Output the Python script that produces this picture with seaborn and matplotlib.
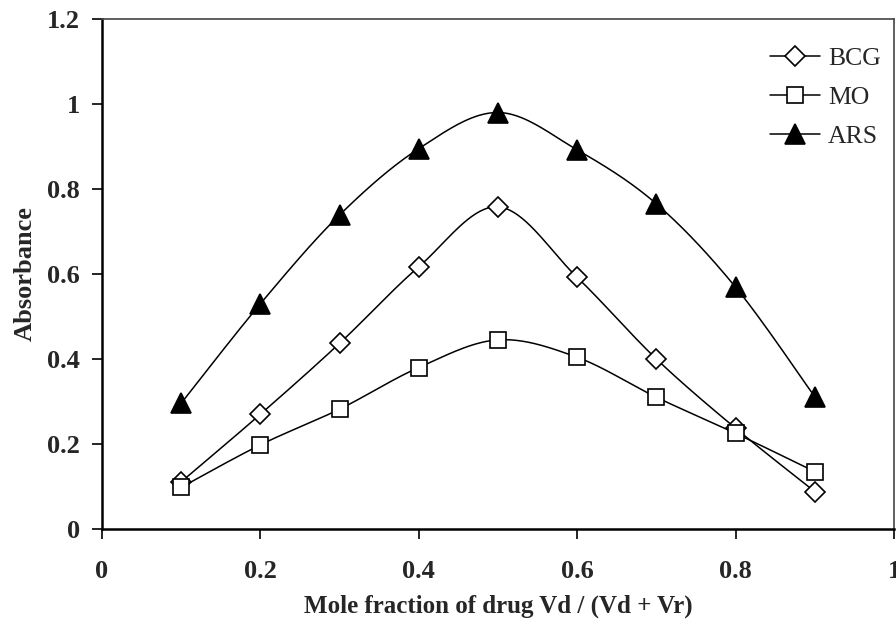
import numpy as np
import pandas as pd
import matplotlib
matplotlib.use("Agg")
import matplotlib.pyplot as plt
import seaborn as sns
from matplotlib.lines import Line2D

# ---- data ----
mole_fraction = [0.1, 0.2, 0.3, 0.4, 0.5, 0.6, 0.7, 0.8, 0.9]
bcg = [0.111, 0.270, 0.437, 0.617, 0.758, 0.592, 0.400, 0.237, 0.088]
mo = [0.098, 0.198, 0.282, 0.380, 0.445, 0.404, 0.310, 0.225, 0.135]
ars = [0.296, 0.530, 0.739, 0.895, 0.980, 0.892, 0.765, 0.569, 0.311]
series_names = ["BCG", "MO", "ARS"]
x_ticks = [0, 0.2, 0.4, 0.6, 0.8, 1.0]
x_tick_labels = ["0", "0.2", "0.4", "0.6", "0.8", "1"]
y_ticks = [0, 0.2, 0.4, 0.6, 0.8, 1.0, 1.2]
y_tick_labels = ["0", "0.2", "0.4", "0.6", "0.8", "1", "1.2"]
x_label = "Mole fraction of drug Vd / (Vd + Vr)"
y_label = "Absorbance"

sns.set_theme(style="white")
plt.rcParams["font.family"] = ["Liberation Serif", "DejaVu Serif"]


def smooth_curve(x, y, n=40):
    """Excel-like smoothed line: cubic Bezier through points (Catmull-Rom tangents)."""
    P = np.column_stack([x, y]).astype(float)
    Pext = np.vstack([P[0], P, P[-1]])
    t = np.linspace(0, 1, n)[:, None]
    segs = []
    for i in range(len(P) - 1):
        p0 = P[i]
        p3 = P[i + 1]
        c1 = p0 + (Pext[i + 2] - Pext[i]) / 6.0
        c2 = p3 - (Pext[i + 3] - Pext[i + 1]) / 6.0
        b = ((1 - t) ** 3) * p0 + 3 * ((1 - t) ** 2) * t * c1 + 3 * (1 - t) * t ** 2 * c2 + t ** 3 * p3
        segs.append(b if i == 0 else b[1:])
    B = np.vstack(segs)
    return B[:, 0], B[:, 1]


fig = plt.figure(figsize=(8.96, 6.22), dpi=100)
ax = fig.add_axes([102 / 896, 93 / 622, 792 / 896, 510 / 622])
fig.patch.set_facecolor("white")
ax.set_facecolor("white")

styles = {
    "BCG": dict(marker="D", ms=10.2, mfc="white"),
    "MO": dict(marker="s", ms=11.2, mfc="white"),
    "ARS": dict(marker="^", ms=14.0, mfc="black"),
}
values = {"BCG": bcg, "MO": mo, "ARS": ars}

handles = []
for k, name in enumerate(series_names):
    sx, sy = smooth_curve(mole_fraction, values[name])
    df = pd.DataFrame({"x": sx, "y": sy})
    sns.lineplot(data=df, x="x", y="y", ax=ax, color="black", lw=1.1,
                 sort=False, estimator=None, zorder=3 + 2 * k)
    st = styles[name]
    ax.plot(mole_fraction, values[name], ls="none", marker=st["marker"], ms=st["ms"],
            mfc=st["mfc"], mec="black", mew=1.2, zorder=4 + 2 * k)
    handles.append(Line2D([], [], color="black", lw=1.1, marker=st["marker"], ms=st["ms"],
                          mfc=st["mfc"], mec="black", mew=1.2))

ax.set_xlim(0, 1)
ax.set_ylim(0, 1.2)
ax.set_xticks(x_ticks)
ax.set_xticklabels(x_tick_labels)
ax.set_yticks(y_ticks)
ax.set_yticklabels(y_tick_labels)
for lab in ax.get_xticklabels() + ax.get_yticklabels():
    lab.set_fontweight("bold")
    lab.set_fontsize(19)
ax.tick_params(axis="both", which="major", direction="out", length=7, width=1.2,
               color="black", left=True, bottom=True)
ax.tick_params(axis="x", pad=15)
ax.tick_params(axis="y", pad=9)

ax.set_xlabel(x_label, fontsize=18, fontweight="bold", labelpad=9)
ax.set_ylabel(y_label, fontsize=19, fontweight="bold", labelpad=7)

for side in ["left", "bottom"]:
    ax.spines[side].set_color("black")
    ax.spines[side].set_linewidth(1.8)
for side in ["top", "right"]:
    ax.spines[side].set_color("#444444")
    ax.spines[side].set_linewidth(1.2)
ax.grid(False)

leg = ax.legend(handles, series_names, loc="upper left", frameon=False,
                bbox_to_anchor=(770 / 896, 1 - 47 / 622), bbox_transform=fig.transFigure,
                fontsize=18.5, handlelength=1.95, handletextpad=0.3, labelspacing=0.62,
                borderpad=0, borderaxespad=0)

fig.savefig("out.png", dpi=100, facecolor="white")
